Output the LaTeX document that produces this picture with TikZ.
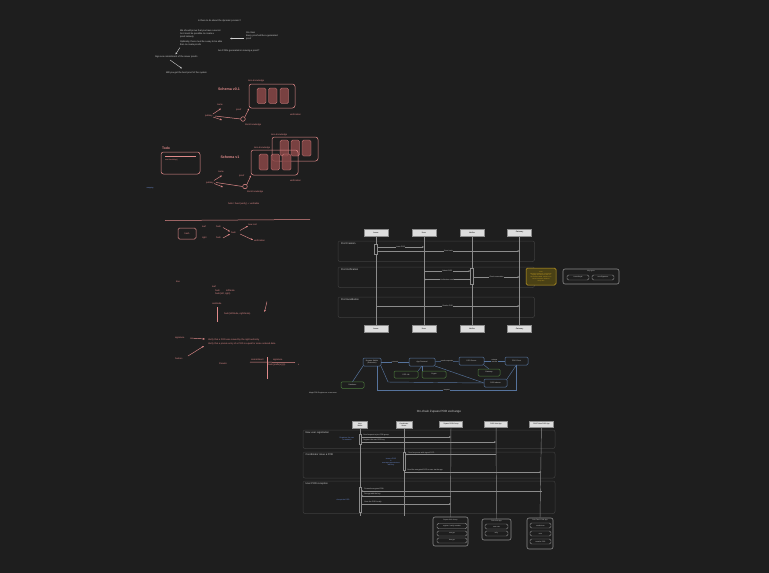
\documentclass[tikz,border=0pt]{standalone}
\usepackage{fontspec}
\setmainfont{Liberation Sans}
\usetikzlibrary{arrows.meta}
\definecolor{bg}{HTML}{1E1E1E}
\definecolor{wt}{HTML}{D0D0D0}
\definecolor{pk}{HTML}{E08A8A}
\definecolor{pkd}{HTML}{8A4848}
\definecolor{lg}{HTML}{DDDDDD}
\definecolor{ll}{HTML}{8C8C8C}
\definecolor{gb}{HTML}{3E3E3E}
\definecolor{bl}{HTML}{56739C}
\definecolor{gn}{HTML}{4C7A3C}
\definecolor{yl}{HTML}{C9A227}
\definecolor{yd}{HTML}{4A4115}
\definecolor{bt}{HTML}{6F90D8}
\tikzset{
 every node/.style={inner sep=0pt, outer sep=0pt},
 tx/.style={text=wt, font=\fontsize{2.3}{2.9}\selectfont, anchor=west, align=left},
 ptx/.style={text=pk, font=\fontsize{2.3}{2.9}\selectfont, anchor=west, align=left},
 ptitle/.style={text=pk, font=\fontsize{3.6}{4}\selectfont\bfseries},
 warr/.style={draw=wt, line width=0.4pt, -{Stealth[length=2.2pt,width=1.8pt]}},
 parr/.style={draw=pk, line width=0.45pt, -{Stealth[length=2.2pt,width=1.8pt]}},
 pbox/.style={draw=pk, rounded corners=2.5pt, line width=0.5pt},
 pcell/.style={draw=pk, fill=pkd, fill opacity=0.85, rounded corners=1.5pt, line width=0.35pt},
 part/.style={draw=ll, fill=lg, text=black, minimum width=24pt, minimum height=7pt, font=\fontsize{1.9}{2.3}\selectfont, align=center},
 grp/.style={draw=gb, rounded corners=2pt, line width=0.5pt},
 glab/.style={text=wt, font=\fontsize{2.5}{3}\selectfont, anchor=north west},
 life/.style={draw=ll, line width=0.45pt},
 msg/.style={draw=ll, line width=0.4pt, -{Stealth[length=2pt,width=1.6pt]}},
 mlab/.style={text=wt, font=\fontsize{1.8}{2.2}\selectfont, fill=bg, inner sep=0.3pt},
 act/.style={draw=ll, fill=bg, line width=0.4pt},
 anode/.style={draw=bl, fill=bg, rounded corners=1.2pt, line width=0.5pt, text=wt, font=\fontsize{1.8}{2.2}\selectfont, align=center},
 gnode/.style={draw=gn, fill=bg, rounded corners=1.2pt, line width=0.5pt, text=wt, font=\fontsize{1.8}{2.2}\selectfont, align=center},
 aedge/.style={draw=bl, line width=0.45pt},
 btx/.style={text=bt, font=\fontsize{1.8}{2.2}\selectfont, align=center},
 obox/.style={draw=ll, rounded corners=2pt, line width=0.6pt},
 ibox/.style={draw=ll, rounded corners=1.5pt, line width=0.45pt, text=wt, font=\fontsize{1.7}{2}\selectfont, align=center}
}
\begin{document}
\begin{tikzpicture}[x=1pt,y=-1pt]
\fill[bg] (0,0) rectangle (769,573);
\useasboundingbox (0,0) rectangle (769,573);

% ---------------- section 1 : notes ----------------
\node[tx] (n1) at (198,20.5) {Is there to do about the dynamic process?};
\node[tx] (n2) at (180,34) {We should prove that you have a secret\\So it must be possible to create a\\proof natively};
\node[tx] (n3) at (180,43.5) {Optimally, there must be a way to be able\\then to create proofs};
\node[tx] (n4) at (246,36) {On chain\\Every proof will be a generated\\proof};
\node[tx] (n5) at (218,51) {Are PODs generated on issuing a proof?};
\node[tx] (n6) at (155,57) {Sign one commitment of the issuer proofs};
\node[tx] (n7) at (166,72.5) {Will you get the best proof of the system};
\coordinate (c41) at (244,38.5); \coordinate (c42) at (230,38.5);
\draw[warr] (c41) -- (c42);
\coordinate (c31) at (180,47.5); \coordinate (c32) at (175.5,54.5);
\draw[warr] (c31) -- (c32);
\coordinate (c61) at (170,60); \coordinate (c62) at (182,68.5);
\draw[warr] (c61) -- (c62);

% ---------------- section 2 : schema v0.1 ----------------
\node[ptitle] (s01) at (229,89) {Schema v0.1};
\node[ptx] (zk1) at (248,81) {zero-knowledge};
\draw[pbox] (249,84) rectangle (295,108);
\draw[pcell] (257,88) rectangle (266,103.5);
\draw[pcell] (268.5,88) rectangle (277,103.5);
\draw[pcell] (280,88) rectangle (288.5,103.5);
\node[ptx] (pk1) at (205,116) {pubkey};
\node[ptx] (nm1) at (217,104.5) {name};
\node[ptx] (pr1) at (236,109.5) {proof};
\node[ptx] (zv1) at (245,124.5) {ZeroKnowledge};
\node[ptx] (vf1) at (290,114.5) {verification};
\node[draw=pk, circle, minimum size=4.6pt, line width=0.5pt] (cc1) at (243,119) {};
\draw[parr] (213,114) -- (221,108.5);
\draw[parr] (213,117) -- (222,120);
\draw[draw=pk, line width=0.5pt] (215,116) -- (cc1.west);
\draw[parr] (cc1.north east) -- (249,108.5);

% ---------------- schema v1 ----------------
\node[ptx,font=\fontsize{3.4}{4}\selectfont\bfseries] (todo) at (162,148) {Todo};
\draw[pbox] (161,152) rectangle (200,174);
\draw[draw=pk, line width=0.3pt] (165,156) -- (196,156);
\node[ptx,font=\fontsize{1.8}{2.2}\selectfont] (hm) at (165,160) {new HashMap()};
\node[ptitle] (s1) at (230,157) {Schema v1};
\node[ptx] (zk2) at (254,147.5) {zero-knowledge};
\node[ptx] (zk3) at (271,134.5) {zero-knowledge};
\draw[pbox] (272,137) rectangle (318,161);
\draw[pcell] (280,140) rectangle (288.5,156);
\draw[pcell] (291,140) rectangle (299.5,156);
\draw[pcell] (302,140) rectangle (311,156);
\draw[pbox] (251,150) rectangle (298,175);
\draw[pcell] (259,154) rectangle (268,170);
\draw[pcell] (271,154) rectangle (279.5,170);
\draw[pcell] (282,154) rectangle (291,170);
\node[ptx] (pk2) at (206,182.5) {pubkey};
\node[ptx] (nm2) at (218,171.5) {name};
\node[ptx] (pr2) at (239,175.5) {proof};
\node[ptx] (zv2) at (247,191.5) {ZeroKnowledge};
\node[ptx] (vf2) at (290,181) {verification};
\node[draw=pk, circle, minimum size=4.6pt, line width=0.5pt] (cc2) at (245,186.5) {};
\draw[parr] (214,180.5) -- (222,175.5);
\draw[parr] (214,183.5) -- (223,187);
\draw[draw=pk, line width=0.5pt] (216,182.5) -- (cc2.west);
\draw[parr] (cc2.north east) -- (251,175.5);
\node[text=bt, font=\fontsize{1.8}{2.2}\selectfont] (rep) at (150,188) {mapping};
\node[ptx] (hf) at (228,204) {hello / fixed (verify) + verifiable};

% ---------------- section 3 : merkle ----------------
\draw[draw=pk, line width=0.5pt] (165,220.5) -- (310,219.5);
\node[draw=pk, rounded corners=1.5pt, line width=0.5pt, minimum width=18pt, minimum height=11pt, text=pk, font=\fontsize{2.3}{2.9}\selectfont] (hb) at (187,233.5) {hash};
\node[ptx] (lf) at (202,227) {leaf};
\node[ptx] (lh) at (216,227) {hash};
\node[ptx] (rt) at (202,238) {right};
\node[ptx] (rh) at (216,238) {hash};
\node[ptx] (hh) at (231,232.5) {hash};
\node[ptx] (nr) at (248,225) {new root};
\node[ptx] (vr) at (254,241) {verification};
\draw[parr] (223,227.5) -- (230,231.5);
\draw[parr] (223,238) -- (230,234);
\draw[parr] (240,230.5) -- (248,226);
\draw[parr] (240,234) -- (253,240);

% ---------------- section 4 ----------------
\node[ptx] (tr) at (176,282) {tree};
\node[ptx] (lf2) at (212,287) {leaf};
\node[ptx] (h2) at (215,290.5) {hash};
\node[ptx] (ln) at (226,290.5) {leftNode};
\node[ptx] (hl) at (215,294) {hash(left, right)};
\node[ptx] (rn) at (212,304) {rootNode};
\draw[draw=pk, line width=0.5pt] (217,307) -- (217,322);
\node[ptx] (hlr) at (224,314) {hash(leftNode, rightNode)};
\draw[parr] (267,301.5) -- (264.5,312);
\node[ptx] (sg) at (175,337.5) {signature};
\node[ptx] (v1) at (208,339.5) {Verify that a POD was issued by the right authority};
\node[ptx] (v2) at (208,344) {Verify that a private entry of a POD is equal for some ordered data};
\draw[parr] (190,338) -- (205,339);
\node[ptx] (hs) at (175,358.5) {hashes};
\draw[parr] (188,356) -- (204,346);
\node[ptx] (ps) at (219,363.5) {Pseudo};
\node[ptx] (cm) at (251,360) {commitment};
\node[ptx] (sg2) at (273,360) {signature};
\draw[draw=pk, line width=0.5pt] (250,362) -- (295,362.5);
\draw[draw=pk, line width=0.5pt] (267,357) -- (267,379);
\node[ptx] (hp) at (268,365) {hash(prefix(x))(x)};
\node[ptx] (xx) at (298,365) {x};

% ---------------- sequence diagram 1 ----------------
\draw[grp] (338,241) rectangle (534.5,261.5);
\draw[grp] (338,267) rectangle (534.5,287.5);
\draw[grp] (338,297) rectangle (534.5,317.5);
\node[glab] (g1) at (341,243) {Pod Creation};
\node[glab] (g2) at (341,269) {Pod Verification};
\node[glab] (g3) at (341,299) {Pod Invalidation};
\node[part] (iT) at (376,232.5) {Issuer};
\node[part] (uT) at (424,232.5) {User};
\node[part] (vT) at (472,232.5) {Verifier};
\node[part] (gT) at (519.5,232.5) {Gateway};
\node[part] (iB) at (376,329) {Issuer};
\node[part] (uB) at (424,329) {User};
\node[part] (vB) at (472,329) {Verifier};
\node[part] (gB) at (519.5,329) {Gateway};
\draw[life] (iT) -- (iB);
\draw[life] (uT) -- (uB);
\draw[life] (vT) -- (vB);
\draw[life] (gT) -- (gB);
\draw[act] (374.5,244) rectangle (377.5,254);
\draw[act] (470.5,268) rectangle (473.5,284);
\draw[msg] (377.5,247) -- node[mlab]{Issue POD} (uT |- 0,247);
\draw[msg] (377.5,251) -- node[mlab]{Store hash} (gT |- 0,251);
\draw[msg] (uT |- 0,271) -- node[mlab]{Submit POD} (470.5,271);
\draw[msg] (473.5,277) -- node[mlab]{Check revocation} (gT |- 0,277);
\draw[msg] (470.5,279.5) -- node[mlab]{Verification result} (uT |- 0,279.5);
\draw[msg] (iT |- 0,306) -- node[mlab]{Revoke POD} (gT |- 0,306);
\node[draw=yl, fill=yd, rounded corners=1.5pt, line width=0.5pt, text=yl, minimum width=30pt, minimum height=17pt, font=\fontsize{1.5}{1.85}\selectfont, align=center] (note) at (541,276.5) {Note\\Gateway maintains a revocation\\registry and stores a hash of\\each issued POD. Verifiers can\\check revocation status at\\verify time};
\node[obox, minimum width=56pt, minimum height=15pt] (kt) at (591,276.5) {};
\node[text=wt, font=\fontsize{1.7}{2}\selectfont] (ktl) at (591,271.3) {Key types};
\node[ibox, minimum width=22pt, minimum height=5pt] (k1) at (578,277.5) {issuerKeyId};
\node[ibox, minimum width=22pt, minimum height=5pt] (k2) at (603,277.5) {userSignature};

% ---------------- architecture ----------------
\node[anode, minimum width=18pt, minimum height=8pt] (bw) at (372,362) {Browser Wallet\\(Extension)};
\node[anode, minimum width=26pt, minimum height=8pt] (af) at (422,362) {App Frontend};
\node[anode, minimum width=25pt, minimum height=8pt] (ps1) at (471.5,361) {POD Server};
\node[anode, minimum width=23pt, minimum height=8pt] (pc) at (516.5,361) {POD Client};
\node[gnode, minimum width=24pt, minimum height=7pt] (lib) at (406,374.5) {POD Lib};
\node[gnode, minimum width=24pt, minimum height=7pt] (cr) at (434,374.5) {Crypto};
\node[gnode, minimum width=22pt, minimum height=7pt] (gw) at (489,372.5) {Gateway};
\node[anode, minimum width=23pt, minimum height=8pt] (pi) at (495.5,383) {POD Indexer};
\node[gnode, minimum width=23pt, minimum height=6.5pt] (db) at (352.5,385) {Database};
\draw[aedge] (bw) -- node[mlab]{connect} (af);
\draw[aedge] (af) -- node[mlab]{sends requests} (ps1);
\draw[aedge] (ps1) -- node[mlab, align=center]{returns\\results} (pc);
\draw[aedge] (af.south) -- (lib.north east);
\draw[aedge] (af.south) -- (cr.north west);
\draw[aedge] (af.south east) -- (pi.west);
\draw[aedge] (ps1.south east) -- (gw.north);
\draw[aedge] (pc.south) -- (pi.north east);
\draw[aedge] (bw.south east) -- (388,382) -- (pi.west);
\draw[aedge] (bw.south west) -- (db.north);
\coordinate (bwo) at (377,366);
\draw[aedge] (bwo) -- (bwo |- 0,390) -- node[mlab]{request} (pc.south |- 0,390) -- (pc.south);
\node[tx, font=\fontsize{1.8}{2.2}\selectfont] (mp) at (309,393.5) {MagicPOD Register as a new user};

% ---------------- sequence diagram 2 ----------------
\node[text=wt, font=\fontsize{3}{3.6}\selectfont] (t2) at (439,412) {On-chain Zupass POD exchange};
\draw[grp] (303,430) rectangle (555,448.5);
\draw[grp] (303,452) rectangle (555,478);
\draw[grp] (303,481) rectangle (555,513.5);
\node[glab] (h1) at (305.5,431.5) {New user registration};
\node[glab] (h2) at (305.5,453.5) {Coordinator issue a POD};
\node[glab] (h3) at (305.5,482.5) {User POD reception};
\node[part, minimum width=15pt, minimum height=7pt, font=\fontsize{1.7}{2}\selectfont] (wA) at (360,424.5) {User\\Wallet};
\node[part, minimum width=16pt, minimum height=7pt, font=\fontsize{1.7}{2}\selectfont] (cA) at (404,424.5) {Coordinator\\Server};
\node[part, minimum width=23pt, minimum height=6pt, font=\fontsize{1.7}{2}\selectfont] (zA) at (451,424) {Zupass POD Group};
\node[part, minimum width=23pt, minimum height=6pt, font=\fontsize{1.7}{2}\selectfont] (vA) at (496,424) {POD Vote App};
\node[part, minimum width=24pt, minimum height=6pt, font=\fontsize{1.7}{2}\selectfont] (tA) at (541.5,424) {POD Token POD App};
\coordinate (wE) at (360,516); \coordinate (cE) at (404,516);
\draw[life] (wA) -- (wE);
\draw[life] (cA) -- (cE);
\draw[act] (358.8,434) rectangle (361.2,444.5);
\draw[act] (402.8,452) rectangle (405.2,470);
\draw[act] (358.8,487) rectangle (361.2,512);
\node[btx] (bn1) at (347,439) {Registers the user\\on network};
\node[btx] (bn2) at (391,462) {Issue a POD\\\&\\manages permissions\\with key};
\node[btx] (bn3) at (343,500) {Accept the POD};
\draw[msg] (361.2,437) -- (zA |- 0,437);
\node[mlab, anchor=south west] (m1) at (363,436.6) {Send request to join POD group};
\draw[msg] (361.2,442) -- (vA |- 0,442);
\node[mlab, anchor=south west] (m2) at (363,441.6) {Register the user POD key};
\draw[msg] (vA |- 0,454.5) -- (405.2,454.5);
\node[mlab, anchor=south west] (m3) at (408,454.1) {Send response with signed POD};
\draw[msg] (405.2,472) -- (tA |- 0,472);
\node[mlab, anchor=south west] (m4) at (407,471.6) {Send the encrypted POD to user via the app};
\draw[msg] (tA |- 0,491) -- (361.2,491);
\node[mlab, anchor=south west] (m5) at (364,490.6) {Forward encrypted POD};
\draw[msg] (zA |- 0,496) -- (361.2,496);
\node[mlab, anchor=south west] (m6) at (364,495.6) {Decrypt with the key};
\draw[msg] (361.2,504) -- (zA |- 0,504);
\node[mlab, anchor=south west] (m7) at (364,503.6) {Store the POD locally};

% ---------------- bottom boxes ----------------
\node[obox, minimum width=35pt, minimum height=29pt] (bx1) at (450.5,531.5) {};
\node[obox, minimum width=29pt, minimum height=21pt] (bx2) at (496.5,529.5) {};
\node[obox, minimum width=26pt, minimum height=31pt] (bx3) at (540,533.5) {};
\draw[life] (zA) -- (bx1.north);
\draw[life] (vA) -- (bx2.north);
\draw[life] (tA) -- (bx3.north);
\node[text=wt, font=\fontsize{1.6}{2}\selectfont] (bt1) at (450.5,519.8) {Zupass POD Group};
\node[text=wt, font=\fontsize{1.6}{2}\selectfont] (bt2) at (496.5,521.5) {POD Vote App};
\node[text=wt, font=\fontsize{1.6}{2}\selectfont] (bt3) at (540,520.5) {POD Token POD App};
\node[ibox, minimum width=30pt, minimum height=5.5pt] (i11) at (452,526) {register / verify member};
\node[ibox, minimum width=30pt, minimum height=5pt] (i12) at (452,533.5) {encrypt};
\node[ibox, minimum width=30pt, minimum height=5pt] (i13) at (452,540.5) {decrypt};
\node[ibox, minimum width=23pt, minimum height=5pt] (i21) at (496.5,526.5) {cast vote};
\node[ibox, minimum width=23pt, minimum height=5pt] (i22) at (496.5,533.5) {tally};
\node[ibox, minimum width=21pt, minimum height=5pt] (i31) at (540.5,525.5) {send token};
\node[ibox, minimum width=21pt, minimum height=5pt] (i32) at (540.5,533.5) {mint};
\node[ibox, minimum width=21pt, minimum height=5pt] (i33) at (540.5,541.5) {transfer POD};
\end{tikzpicture}
\end{document}
